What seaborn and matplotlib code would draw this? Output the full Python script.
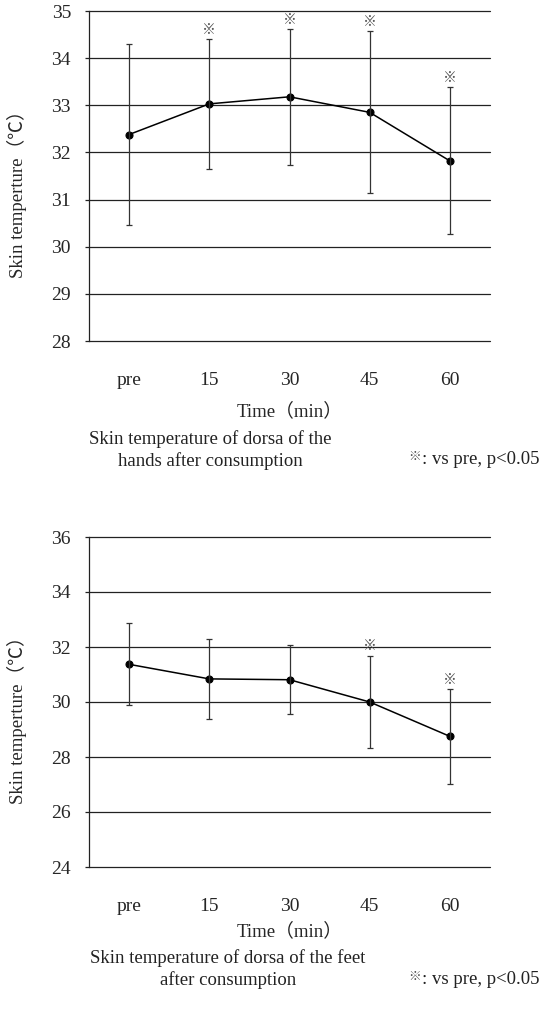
import matplotlib
matplotlib.use("Agg")
import matplotlib.pyplot as plt
import numpy as np
import pandas as pd
import seaborn as sns

times = ["pre", "15", "30", "45", "60"]

hands_mean = [32.38, 33.03, 33.18, 32.85, 31.82]
hands_sd = [1.92, 1.38, 1.44, 1.72, 1.56]
hands_sig = [False, True, True, True, True]

feet_mean = [31.37, 30.84, 30.81, 30.00, 28.75]
feet_sd = [1.49, 1.44, 1.25, 1.69, 1.72]
feet_sig = [False, False, False, True, True]

hands_ticks = [28, 29, 30, 31, 32, 33, 34, 35]
feet_ticks = [24, 26, 28, 30, 32, 34, 36]

sns.set_theme(style="white")
plt.rcParams["font.family"] = ["Liberation Serif", "Noto Sans CJK JP"]
plt.rcParams["text.color"] = "#222222"

W, H = 541, 1015
fig = plt.figure(figsize=(W / 100, H / 100), dpi=100)


def px_box(left, top, right, bottom):
    return [left / W, 1 - bottom / H, (right - left) / W, (bottom - top) / H]


def draw_panel(ax, means, sds, sig, ticks, xlabel_y):
    df = pd.DataFrame({"time": times, "temp": means})
    sns.pointplot(data=df, x="time", y="temp", color="black", errorbar=None,
                  markers="o", markersize=5, linewidth=1.1, ax=ax)
    ax.errorbar(range(len(times)), means, yerr=sds, fmt="none", ecolor="#333333",
                elinewidth=0.9, capsize=2.2, capthick=0.9, zorder=2)
    for i, (m, s, flag) in enumerate(zip(means, sds, sig)):
        if flag:
            ax.annotate("※", (i, m + s), xytext=(0, 1.5), textcoords="offset points",
                        ha="center", va="bottom", fontsize=10, color="#555555",
                        family=["Noto Sans CJK JP"])
    ax.set_ylim(ticks[0], ticks[-1])
    ax.set_yticks(ticks)
    ax.set_xlim(-0.5, len(times) - 0.5)
    for t in ticks:
        ax.axhline(t, color="#222222", lw=0.9, zorder=0, clip_on=False)
    for side in ["top", "right", "bottom"]:
        ax.spines[side].set_visible(False)
    ax.spines["left"].set_color("#222222")
    ax.spines["left"].set_linewidth(0.9)
    ax.tick_params(axis="y", left=True, length=3, width=0.9, color="#222222",
                   pad=10, labelsize=14)
    ax.tick_params(axis="x", bottom=False, pad=16, labelsize=14)
    ax.set_xlabel("Time（min）", fontsize=13.5)
    ax.xaxis.set_label_coords(0.5, xlabel_y)
    ax.set_ylabel("Skin temperture（℃）", fontsize=13.5)
    ax.yaxis.set_label_coords(-0.155, 0.46)
    ax.grid(False)


ax1 = fig.add_axes(px_box(89, 11, 490, 341))
draw_panel(ax1, hands_mean, hands_sd, hands_sig, hands_ticks, -0.185)

ax2 = fig.add_axes(px_box(89, 537, 490, 867))
draw_panel(ax2, feet_mean, feet_sd, feet_sig, feet_ticks, -0.167)

fig.text(210 / W, 1 - 450 / H, "Skin temperature of dorsa of the\nhands after consumption",
         ha="center", va="center", fontsize=13.5, linespacing=1.25)
fig.text(228 / W, 1 - 969 / H, "Skin temperature of dorsa of the feet\nafter consumption",
         ha="center", va="center", fontsize=13.5, linespacing=1.25)

# footnotes: small raised mark in front of the text
renderer = fig.canvas.get_renderer()
for y in [460, 980]:
    note = fig.text(539 / W, 1 - y / H, ": vs pre, p<0.05", ha="right", va="center",
                    fontsize=13.5)
    left_px = note.get_window_extent(renderer).x0
    fig.text((left_px - 1) / W, 1 - (y - 3) / H, "※", ha="right", va="center",
             fontsize=9, color="#444444", family=["Noto Sans CJK JP"])

fig.savefig("out.png", dpi=100, facecolor="white")
